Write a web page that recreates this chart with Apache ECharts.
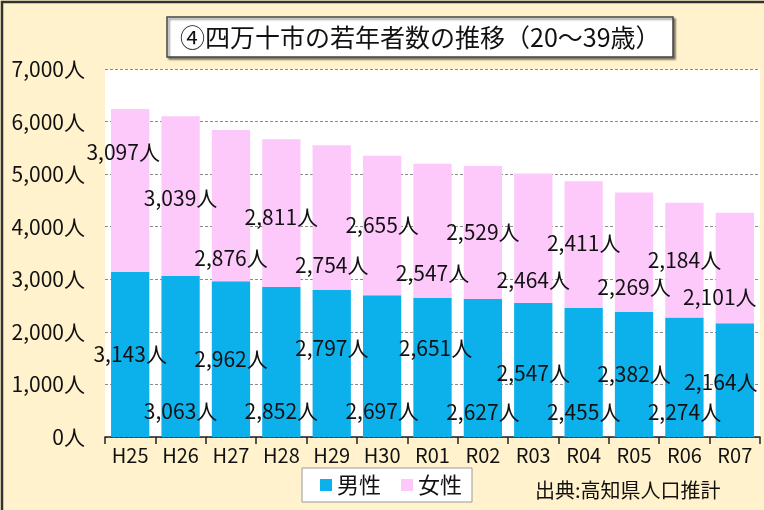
<!DOCTYPE html>
<html>
<head>
<meta charset="utf-8">
<script src="https://cdn.jsdelivr.net/npm/echarts@6/dist/echarts.min.js"></script>
<style>
  html, body { margin: 0; padding: 0; background: #fff2cc; }
  #main { width: 764px; height: 510px; }
</style>
</head>
<body>
<div id="main"></div>
<script>
var years = ["H25", "H26", "H27", "H28", "H29", "H30", "R01", "R02", "R03", "R04", "R05", "R06", "R07"]
var male = [3143, 3063, 2962, 2852, 2797, 2697, 2651, 2627, 2547, 2455, 2382, 2274, 2164]
var female = [3097, 3039, 2876, 2811, 2754, 2655, 2547, 2529, 2464, 2411, 2269, 2184, 2101]
var yTicks = [0, 1000, 2000, 3000, 4000, 5000, 6000, 7000]

// label nudges (px) so the labels sit where the original had them dragged
var maleShift = [[0, 0], [0, 55], [0, 0], [0, 49], [0, -15], [0, 45], [3, -19], [0, 44], [0, 3], [0, 40], [0, 0], [0, 35], [-14, 2]]
var femaleShift = [[-7, -38], [0, 2], [0, 52], [0, 4], [0, 47], [0, 0], [0, 42], [0, 0], [0, 42], [0, -2], [0, 35], [0, 0], [-15, 29]]

var font = '"Noto Sans CJK JP", "Noto Sans", sans-serif'

function fmt(v) {
  return String(v).replace(/\B(?=(\d{3})+(?!\d))/g, ",") + "人"
}

var chartDom = document.getElementById("main")
var myChart = echarts.init(chartDom)
var option

option = {
  backgroundColor: "#fff2cc",
  textStyle: { fontFamily: font },
  title: {
    text: "④四万十市の若年者数の推移（20～39歳）",
    left: 167,
    top: 17,
    backgroundColor: "#fff",
    borderColor: "#444",
    borderWidth: 1.5,
    padding: [8, 13, 7, 13],
    shadowColor: "rgba(0,0,0,0.45)",
    shadowOffsetX: 2,
    shadowOffsetY: 2,
    shadowBlur: 2,
    textStyle: {
      fontFamily: font,
      fontSize: 25,
      fontWeight: "normal",
      color: "#111"
    }
  },
  legend: {
    data: ["男性", "女性"],
    left: 302,
    top: 468,
    icon: "rect",
    itemWidth: 12,
    itemHeight: 12,
    itemGap: 20,
    padding: [6, 10, 6, 18],
    backgroundColor: "#fff",
    borderColor: "#999",
    borderWidth: 1,
    textStyle: { fontFamily: font, fontSize: 22, color: "#111" }
  },
  grid: {
    left: 105,
    right: 4,
    top: 69,
    bottom: 73,
    show: true,
    backgroundColor: "#fff",
    borderWidth: 0
  },
  xAxis: {
    type: "category",
    data: years,
    axisLine: { lineStyle: { color: "#222", width: 1.5 } },
    axisTick: { show: true, length: 7, lineStyle: { color: "#222", width: 1.5 } },
    axisLabel: { fontFamily: font, fontSize: 20, color: "#111", margin: 8 }
  },
  yAxis: {
    type: "value",
    min: yTicks[0],
    max: yTicks[yTicks.length - 1],
    interval: 1000,
    axisLine: { show: false },
    axisTick: { show: false },
    axisLabel: {
      fontFamily: font,
      fontSize: 21,
      color: "#111",
      margin: 20,
      formatter: fmt
    },
    splitLine: { lineStyle: { color: "#8a8a8a", type: [3, 2], width: 1 } }
  },
  series: [
    {
      name: "男性",
      type: "bar",
      stack: "total",
      barCategoryGap: "24%",
      itemStyle: { color: "#0cb0ea" },
      label: {
        show: true,
        position: "inside",
        fontFamily: font,
        fontSize: 21,
        color: "#111",
        formatter: function (p) { return fmt(p.value) }
      },
      data: male.map(function (v, i) {
        return { value: v, label: { offset: maleShift[i] } }
      })
    },
    {
      name: "女性",
      type: "bar",
      stack: "total",
      itemStyle: { color: "#fdc9fb" },
      label: {
        show: true,
        position: "inside",
        fontFamily: font,
        fontSize: 21,
        color: "#111",
        formatter: function (p) { return fmt(p.value) }
      },
      data: female.map(function (v, i) {
        return { value: v, label: { offset: femaleShift[i] } }
      })
    }
  ],
  graphic: [
    {
      type: "text",
      left: 535,
      top: 480,
      style: { text: "出典:高知県人口推計", font: "20px " + font, fill: "#111" }
    },
    {
      type: "polyline",
      shape: { points: [[2, 510], [2, 2], [764, 2]] },
      style: { stroke: "#333", lineWidth: 2.5, fill: null }
    }
  ]
}

option && myChart.setOption(option)
</script>
</body>
</html>
